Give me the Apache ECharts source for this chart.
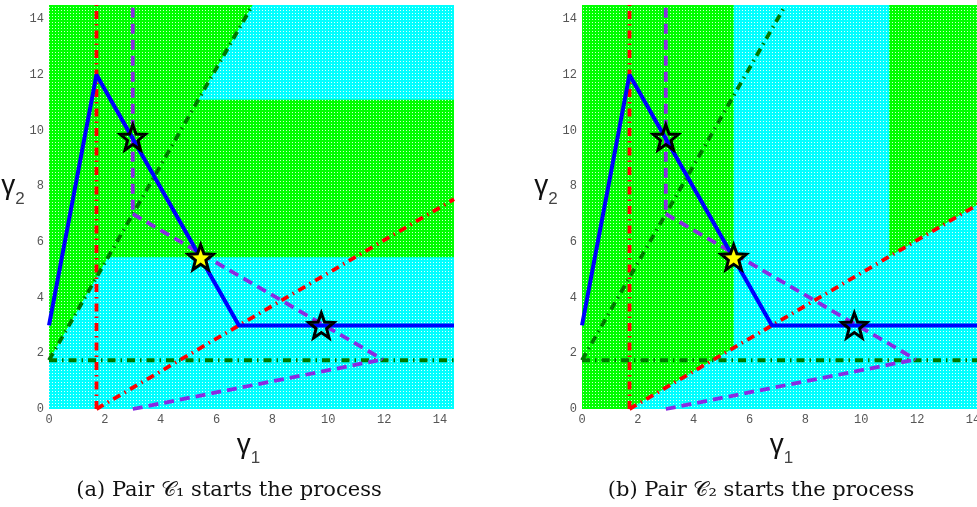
<!DOCTYPE html>
<html><head><meta charset="utf-8">
<script src="https://cdn.jsdelivr.net/npm/echarts@6/dist/echarts.min.js"></script>
<style>html,body{margin:0;padding:0;background:#fff;overflow:hidden}#c{width:977px;height:507px}</style>
</head><body><div id="c"></div>
<script>
// ---- data (all in γ1 / γ2 data units) ----
const tickValues = [0, 2, 4, 6, 8, 10, 12, 14];
const axisMin = 0;
const axisMax = 14.5;
const blueLine = [[0, 3], [1.7, 12], [6.8, 3], [14.5, 3]];
const redVertical = [[1.7, 0], [1.7, 14.5]];
const redDiagonal = [[1.7, 0], [14.5, 7.53]];
const greenHorizontal = [[0, 1.75], [14.5, 1.75]];
const greenDiagonal = [[0, 1.75], [7.29, 14.5]];
const purpleVertical = [[3, 14.4], [3, 7]];
const purpleUpper = [[3, 7], [11.95, 1.78]];
const purpleLower = [[3, 0], [11.95, 1.78]];
const hollowStars = [[3, 9.75], [9.75, 3]];
const yellowStars = [[5.43, 5.45]];
const plotArea = [[[0, 0], [14.5, 0], [14.5, 14.5], [0, 14.5]]];
const greenRegionsA = [
  [[0, 1.75], [7.29, 14.5], [0, 14.5]],
  [[0, 5.45], [14.5, 5.45], [14.5, 11.1], [0, 11.1]]
];
const greenRegionsB = [
  [[0, 0], [1.7, 0], [5.43, 2.19], [5.43, 14.5], [0, 14.5]],
  [[11, 5.47], [14.5, 7.53], [14.5, 14.5], [11, 14.5]]
];
const captions = ['(a) Pair 𝒞₁ starts the process', '(b) Pair 𝒞₂ starts the process'];

// ---- styling helpers ----
function dotPattern(base, dot) {
  const cv = document.createElement('canvas');
  cv.width = 3; cv.height = 3;
  const ctx = cv.getContext('2d');
  ctx.fillStyle = base; ctx.fillRect(0, 0, 3, 3);
  ctx.fillStyle = dot; ctx.fillRect(1, 1, 1, 1);
  return { image: cv, repeat: 'repeat' };
}
const cyanFill = dotPattern('#00ffff', '#d8ffff');
const greenFill = dotPattern('#00ff00', '#d0ffd0');

function starPath(R, r) {
  let d = '';
  for (let i = 0; i < 10; i++) {
    const rad = i % 2 === 0 ? R : r;
    const a = -Math.PI / 2 + i * Math.PI / 5;
    const x = (50 + rad * Math.cos(a)).toFixed(2);
    const y = (50 + rad * Math.sin(a)).toFixed(2);
    d += (i === 0 ? 'M' : 'L') + x + ',' + y + ' ';
  }
  return 'path://' + d + 'Z';
}
const STAR = starPath(50, 21);

function regionSeries(polys, fill, k, z) {
  return {
    type: 'custom', xAxisIndex: k, yAxisIndex: k, z: z, silent: true, clip: true,
    data: polys.map((p, i) => [i, 0]),
    renderItem: function (params, api) {
      const pts = polys[params.dataIndex].map(p => api.coord(p));
      return { type: 'polygon', shape: { points: pts }, style: { fill: fill } };
    }
  };
}
function lineSeries(data, color, width, dash, k, z) {
  return {
    type: 'line', xAxisIndex: k, yAxisIndex: k, z: z, data: data,
    symbol: 'none', silent: true,
    lineStyle: { color: color, width: width, type: dash, cap: 'butt' }
  };
}
const DASHDOT = [8, 5, 1.5, 5];
const DASHED = [10, 6];

function panelSeries(k, greens) {
  return [
    regionSeries(plotArea, cyanFill, k, 1),
    regionSeries(greens, greenFill, k, 2),
    lineSeries(redVertical, '#ff0000', 3.8, DASHDOT, k, 3),
    lineSeries(redDiagonal, '#ff0000', 3.8, DASHDOT, k, 3),
    lineSeries(greenHorizontal, '#007a00', 3.8, DASHDOT, k, 3),
    lineSeries(greenDiagonal, '#007a00', 3.8, DASHDOT, k, 3),
    lineSeries(purpleVertical, '#8a2be2', 3.8, DASHED, k, 4),
    lineSeries(purpleUpper, '#8a2be2', 3.8, DASHED, k, 4),
    lineSeries(purpleLower, '#8a2be2', 3.8, DASHED, k, 4),
    lineSeries(blueLine, '#0000ff', 4, 'solid', k, 5),
    {
      type: 'scatter', xAxisIndex: k, yAxisIndex: k, z: 6, silent: true,
      data: hollowStars, symbol: STAR, symbolSize: 25,
      itemStyle: { color: 'rgba(0,0,0,0)', borderColor: '#000', borderWidth: 3, opacity: 1 }
    },
    {
      type: 'scatter', xAxisIndex: k, yAxisIndex: k, z: 6, silent: true,
      data: yellowStars, symbol: STAR, symbolSize: 25,
      itemStyle: { color: '#ffff00', borderColor: '#000', borderWidth: 3, opacity: 1 }
    }
  ];
}

const labelStyle = { fontFamily: 'Liberation Mono', fontSize: 12, color: '#555', showMaxLabel: false };
const nameRich = {
  g: { fontFamily: 'Liberation Sans', fontSize: 28, color: '#111', lineHeight: 26, verticalAlign: 'top' },
  s: { fontFamily: 'Liberation Sans', fontSize: 17, color: '#444', lineHeight: 36, verticalAlign: 'bottom' }
};
function xAxis(k, sub) {
  return {
    type: 'value', gridIndex: k, min: axisMin, max: axisMax, interval: 2,
    axisLine: { show: false }, axisTick: { show: false }, splitLine: { show: false },
    axisLabel: Object.assign({ margin: 5 }, labelStyle),
    name: '{g|γ}{s|' + sub + '}', nameLocation: 'middle', nameGap: 20,
    nameTextStyle: { padding: [0, 6, 0, 0], rich: nameRich }
  };
}
function yAxis(k, sub) {
  return {
    type: 'value', gridIndex: k, min: axisMin, max: axisMax, interval: 2,
    axisLine: { show: false }, axisTick: { show: false }, splitLine: { show: false },
    axisLabel: Object.assign({ margin: 5 }, labelStyle),
    name: '{g|γ}{s|' + sub + '}', nameLocation: 'middle', nameGap: 16, nameRotate: 0,
    nameTextStyle: { padding: [0, 0, 34, 0], rich: nameRich }
  };
}

const chart = echarts.init(document.getElementById('c'), null, { renderer: 'canvas' });
chart.setOption({
  animation: false,
  backgroundColor: '#fff',
  grid: [
    { left: 49, top: 5, width: 405, height: 404, containLabel: false, outerBoundsMode: 'none' },
    { left: 582, top: 5, width: 405, height: 404, containLabel: false, outerBoundsMode: 'none' }
  ],
  xAxis: [xAxis(0, '1'), xAxis(1, '1')],
  yAxis: [yAxis(0, '2'), yAxis(1, '2')],
  series: panelSeries(0, greenRegionsA).concat(panelSeries(1, greenRegionsB)),
  graphic: [
    { type: 'text', x: 229, y: 491, style: { text: captions[0], align: 'center', verticalAlign: 'middle', font: '21px "DejaVu Serif"', fill: '#111' } },
    { type: 'text', x: 761, y: 491, style: { text: captions[1], align: 'center', verticalAlign: 'middle', font: '21px "DejaVu Serif"', fill: '#111' } }
  ]
});
</script>
</body></html>
